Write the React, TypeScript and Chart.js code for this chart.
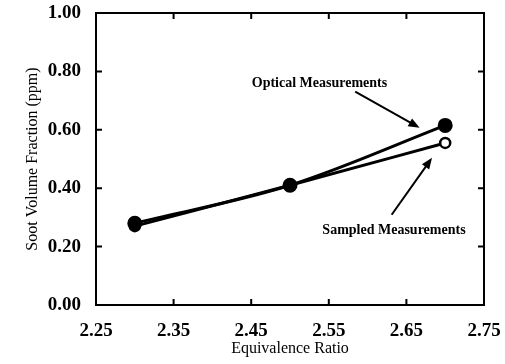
import React, { useEffect, useRef } from "react";
import { Chart, registerables } from "chart.js";

Chart.register(...registerables);

const ratios = [2.3, 2.5, 2.7];
const optical = [0.28, 0.41, 0.615];
const sampled = [0.27, 0.41, 0.555];
const xTicks = [2.25, 2.35, 2.45, 2.55, 2.65, 2.75];
const yTicks = [0, 0.2, 0.4, 0.6, 0.8, 1.0];
const annotationLabels = ["Optical Measurements", "Sampled Measurements"];
// label anchor (x, y) and arrow start/end in data units
const labelPos = [
  [2.538, 0.76],
  [2.634, 0.257],
];
const arrowFrom = [
  [2.584, 0.731],
  [2.631, 0.309],
];
const arrowTo = [
  [2.667, 0.607],
  [2.683, 0.504],
];

const SERIF = "'Liberation Serif', 'Times New Roman', serif";

const framePlugin = {
  id: "frame",
  afterDatasetsDraw(chart: any) {
    const { ctx, chartArea: a, scales } = chart;
    const xs = scales.x;
    const ys = scales.y;
    ctx.save();
    ctx.strokeStyle = "#000";
    ctx.lineWidth = 2;
    ctx.strokeRect(a.left, a.top, a.right - a.left, a.bottom - a.top);
    const t = 6;
    ctx.beginPath();
    xTicks.forEach((v) => {
      const px = xs.getPixelForValue(v);
      ctx.moveTo(px, a.bottom);
      ctx.lineTo(px, a.bottom - t);
      ctx.moveTo(px, a.top);
      ctx.lineTo(px, a.top + t);
    });
    yTicks.forEach((v) => {
      const py = ys.getPixelForValue(v);
      ctx.moveTo(a.left, py);
      ctx.lineTo(a.left + t, py);
      ctx.moveTo(a.right, py);
      ctx.lineTo(a.right - t, py);
    });
    ctx.stroke();

    // annotations
    ctx.fillStyle = "#000";
    ctx.font = `bold 14px ${SERIF}`;
    ctx.textAlign = "center";
    ctx.textBaseline = "middle";
    annotationLabels.forEach((txt, i) => {
      ctx.fillText(
        txt,
        xs.getPixelForValue(labelPos[i][0]),
        ys.getPixelForValue(labelPos[i][1])
      );
      const x1 = xs.getPixelForValue(arrowFrom[i][0]);
      const y1 = ys.getPixelForValue(arrowFrom[i][1]);
      const x2 = xs.getPixelForValue(arrowTo[i][0]);
      const y2 = ys.getPixelForValue(arrowTo[i][1]);
      const ang = Math.atan2(y2 - y1, x2 - x1);
      ctx.lineWidth = 2;
      ctx.beginPath();
      ctx.moveTo(x1, y1);
      ctx.lineTo(x2 - 8 * Math.cos(ang), y2 - 8 * Math.sin(ang));
      ctx.stroke();
      const h = 12;
      const w = 0.38;
      ctx.beginPath();
      ctx.moveTo(x2, y2);
      ctx.lineTo(x2 - h * Math.cos(ang - w), y2 - h * Math.sin(ang - w));
      ctx.lineTo(x2 - h * Math.cos(ang + w), y2 - h * Math.sin(ang + w));
      ctx.closePath();
      ctx.fill();
    });
    ctx.restore();
  },
};

export default function App() {
  const ref = useRef<HTMLCanvasElement>(null);
  useEffect(() => {
    document.body.style.margin = "0";
    const chart = new Chart(ref.current!, {
      type: "line",
      data: {
        datasets: [
          {
            label: "Optical Measurements",
            data: ratios.map((r, i) => ({ x: r, y: optical[i] })),
            borderColor: "#000",
            backgroundColor: "#000",
            borderWidth: 3,
            pointRadius: 6,
            pointBackgroundColor: "#000",
            pointBorderColor: "#000",
            cubicInterpolationMode: "monotone",
          },
          {
            label: "Sampled Measurements",
            data: ratios.map((r, i) => ({ x: r, y: sampled[i] })),
            borderColor: "#000",
            backgroundColor: "#fff",
            borderWidth: 3,
            pointRadius: 5,
            pointBorderWidth: 2.5,
            pointBackgroundColor: "#fff",
            pointBorderColor: "#000",
            cubicInterpolationMode: "monotone",
          },
        ],
      },
      options: {
        responsive: false,
        animation: false,
        layout: { padding: { top: 13, right: 21, left: 0, bottom: 0 } },
        plugins: { legend: { display: false }, tooltip: { enabled: false } },
        scales: {
          x: {
            type: "linear",
            min: 2.25,
            max: 2.75,
            afterBuildTicks: (s: any) => {
              s.ticks = xTicks.map((v) => ({ value: v }));
            },
            afterFit: (s: any) => {
              s.height = 59;
              s.paddingLeft = 0;
              s.paddingRight = 0;
            },
            grid: { display: false, drawTicks: false },
            border: { display: false },
            ticks: {
              color: "#000",
              padding: 15,
              font: { family: SERIF, size: 19, weight: "bold" },
              callback: (v: any) => Number(v).toFixed(2),
            },
            title: {
              display: true,
              text: "Equivalence Ratio",
              color: "#000",
              font: { family: SERIF, size: 16 },
              padding: { top: 0, bottom: 6 },
            },
          },
          y: {
            type: "linear",
            min: 0,
            max: 1,
            afterBuildTicks: (s: any) => {
              s.ticks = yTicks.map((v) => ({ value: v }));
            },
            afterFit: (s: any) => {
              s.width = 96;
              s.paddingTop = 0;
              s.paddingBottom = 0;
            },
            grid: { display: false, drawTicks: false },
            border: { display: false },
            ticks: {
              color: "#000",
              padding: 15,
              font: { family: SERIF, size: 19, weight: "bold" },
              callback: (v: any) => Number(v).toFixed(2),
            },
            title: {
              display: true,
              text: "Soot Volume Fraction (ppm)",
              color: "#000",
              font: { family: SERIF, size: 16 },
              padding: { top: 23, bottom: 0 },
            },
          },
        },
      },
      plugins: [framePlugin],
    });
    return () => chart.destroy();
  }, []);
  return (
    <div style={{ width: 505, height: 364, background: "#fff" }}>
      <canvas ref={ref} width={505} height={364} />
    </div>
  );
}
